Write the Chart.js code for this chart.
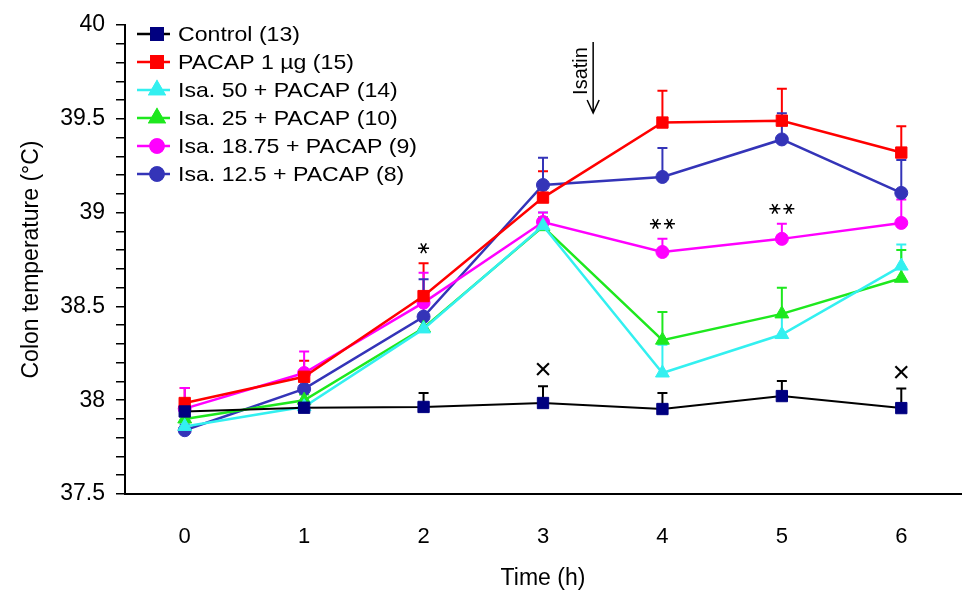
<!DOCTYPE html>
<html>
<head>
<meta charset="utf-8">
<script src="https://cdn.jsdelivr.net/npm/chart.js@4.4.1/dist/chart.umd.min.js"></script>
<style>
  body { margin: 0; background: #fff; }
  #wrap { width: 970px; height: 604px; }
</style>
</head>
<body>
<div id="wrap"><canvas id="tempChart"></canvas></div>
<script>
// data
const times = ['0', '1', '2', '3', '4', '5', '6'];

const controlMean = [37.94, 37.96, 37.964, 37.985, 37.953, 38.022, 37.958];
const controlSem  = [0.03, 0.02, 0.075, 0.09, 0.085, 0.08, 0.105];

const pacapMean = [37.985, 38.125, 38.555, 39.08, 39.48, 39.49, 39.32];
const pacapSem  = [0.08, 0.085, 0.175, 0.14, 0.17, 0.17, 0.14];

const isa50Mean = [37.86, 37.965, 38.38, 38.93, 38.145, 38.35, 38.715];
const isa50Sem  = [0.03, 0.03, 0.05, 0.07, 0.15, 0.1, 0.115];

const isa25Mean = [37.9, 38.0, 38.385, 38.925, 38.32, 38.46, 38.65];
const isa25Sem  = [0.03, 0.03, 0.05, 0.05, 0.15, 0.14, 0.15];

const isa1875Mean = [37.955, 38.145, 38.52, 38.95, 38.79, 38.86, 38.945];
const isa1875Sem  = [0.11, 0.115, 0.16, 0.05, 0.07, 0.08, 0.125];

const isa125Mean = [37.84, 38.06, 38.445, 39.147, 39.19, 39.39, 39.105];
const isa125Sem  = [0.03, 0.05, 0.2, 0.145, 0.155, 0.14, 0.175];

// significance marks: time index, text, series they sit above
const sigTimes  = [2, 4, 5, 3, 6];
const sigText   = ['*', '**', '**', '\u00d7', '\u00d7'];
const sigSeries = [1, 4, 4, 0, 0];

const isatinTime = 3.42;

const yTicks = { min: 37.5, max: 40, step: 0.1 };

// series look
const series = [
  { label: 'Control (13)',           mean: controlMean, sem: controlSem, line: '#000000', fill: '#000080', bar: '#000000', style: 'rect',     r: 8 },
  { label: 'PACAP 1 \u00b5g (15)',   mean: pacapMean,   sem: pacapSem,   line: '#ff0000', fill: '#ff0000', bar: '#ff0000', style: 'rect',     r: 8 },
  { label: 'Isa. 50 + PACAP (14)',   mean: isa50Mean,   sem: isa50Sem,   line: '#33f0f0', fill: '#33f0f0', bar: '#33f0f0', style: 'triangle', r: 8 },
  { label: 'Isa. 25 + PACAP (10)',   mean: isa25Mean,   sem: isa25Sem,   line: '#1ee81e', fill: '#1ee81e', bar: '#1ee81e', style: 'triangle', r: 8 },
  { label: 'Isa. 18.75 + PACAP (9)', mean: isa1875Mean, sem: isa1875Sem, line: '#ff00ff', fill: '#ff00ff', bar: '#ff00ff', style: 'circle',   r: 6.5 },
  { label: 'Isa. 12.5 + PACAP (8)',  mean: isa125Mean,  sem: isa125Sem,  line: '#3434b8', fill: '#3434b8', bar: '#3434b8', style: 'circle',   r: 6.5 }
];

const FONT = '"Liberation Sans", Arial, sans-serif';

// error bars (upward only, with cap)
const errorBars = {
  id: 'errorBars',
  beforeDatasetsDraw(chart) {
    const ctx = chart.ctx;
    const xs = chart.scales.x, ys = chart.scales.y;
    ctx.save();
    ctx.lineWidth = 2;
    series.forEach((s) => {
      ctx.strokeStyle = s.bar;
      s.mean.forEach((m, j) => {
        const x = xs.getPixelForValue(j);
        const y0 = ys.getPixelForValue(m);
        const y1 = ys.getPixelForValue(m + s.sem[j]);
        ctx.beginPath();
        ctx.moveTo(x, y0);
        ctx.lineTo(x, y1);
        ctx.moveTo(x - 5, y1);
        ctx.lineTo(x + 5, y1);
        ctx.stroke();
      });
    });
    ctx.restore();
  }
};

// six-armed asterisk like the figure's
function drawStar(ctx, x, y) {
  const r = 5.5;
  ctx.beginPath();
  for (let a = 0; a < 3; a++) {
    const ang = a * Math.PI / 3;
    ctx.moveTo(x - r * Math.cos(ang), y - r * Math.sin(ang));
    ctx.lineTo(x + r * Math.cos(ang), y + r * Math.sin(ang));
  }
  ctx.stroke();
}

// stars / crosses, isatin arrow, legend
const extras = {
  id: 'extras',
  afterDraw(chart) {
    const ctx = chart.ctx;
    const xs = chart.scales.x, ys = chart.scales.y;
    ctx.save();

    // significance marks
    ctx.fillStyle = '#000';
    ctx.strokeStyle = '#000';
    ctx.lineWidth = 1.5;
    ctx.textAlign = 'center';
    ctx.textBaseline = 'middle';
    sigTimes.forEach((t, k) => {
      const s = series[sigSeries[k]];
      const x = xs.getPixelForValue(t);
      const y = ys.getPixelForValue(s.mean[t] + s.sem[t]) - 15;
      if (sigText[k] === '\u00d7') {
        ctx.font = '30px ' + FONT;
        ctx.fillText(sigText[k], x, y);
      } else {
        const n = sigText[k].length;
        for (let i = 0; i < n; i++) {
          drawStar(ctx, x + (i - (n - 1) / 2) * 14, y);
        }
      }
    });

    // isatin arrow
    const ax = xs.getPixelForValue(isatinTime);
    const aTop = chart.chartArea.top + 17, aBot = chart.chartArea.top + 88;
    ctx.lineWidth = 1.5;
    ctx.beginPath();
    ctx.moveTo(ax, aTop);
    ctx.lineTo(ax, aBot);
    ctx.moveTo(ax - 6, aBot - 13);
    ctx.lineTo(ax, aBot);
    ctx.lineTo(ax + 6, aBot - 13);
    ctx.stroke();
    ctx.translate(ax - 12, aTop + 29);
    ctx.rotate(-Math.PI / 2);
    ctx.font = '20px ' + FONT;
    ctx.fillText('Isatin', 0, 0);
    ctx.setTransform(1, 0, 0, 1, 0, 0);

    // legend
    const lx = 137, lw = 33, rowH = 28;
    let ly = chart.chartArea.top + 9;
    ctx.textAlign = 'left';
    series.forEach((s) => {
      ctx.strokeStyle = s.line;
      ctx.lineWidth = 2.5;
      ctx.beginPath();
      ctx.moveTo(lx, ly);
      ctx.lineTo(lx + lw, ly);
      ctx.stroke();
      Chart.helpers.drawPoint(ctx, {
        pointStyle: s.style, radius: s.r, borderWidth: 1,
        rotation: 0
      }, lx + 20, ly);
      ctx.fillStyle = s.fill;
      ctx.strokeStyle = s.fill;
      ctx.fill();
      ctx.stroke();
      ctx.fillStyle = '#000';
      // text in the figure is a bit wide
      ctx.save();
      ctx.translate(lx + 41, ly + 1);
      ctx.scale(1.1, 1);
      ctx.font = '21px ' + FONT;
      ctx.fillText(s.label, 0, 0);
      ctx.restore();
      ly += rowH;
    });
    ctx.restore();
  }
};

const datasets = series.map((s) => ({
  label: s.label,
  data: s.mean,
  borderColor: s.line,
  borderWidth: s.line === '#000000' ? 2 : 2.5,
  backgroundColor: s.fill,
  pointBackgroundColor: s.fill,
  pointBorderColor: s.fill,
  pointBorderWidth: 1,
  pointStyle: s.style,
  pointRadius: s.r,
  tension: 0
}));

const ctx1 = document.getElementById('tempChart').getContext('2d');
const tempChart = new Chart(ctx1, {
  type: 'line',
  data: { labels: times, datasets: datasets },
  options: {
    responsive: true,
    maintainAspectRatio: false,
    animation: false,
    layout: { padding: { top: 25, right: 5, left: 0, bottom: 0 } },
    plugins: { legend: { display: false }, tooltip: { enabled: false } },
    scales: {
      x: {
        type: 'category',
        offset: true,
        grid: { display: false, drawTicks: false },
        border: { display: true, color: '#000', width: 2 },
        ticks: { color: '#000', font: { family: FONT, size: 22 }, padding: 30 },
        title: { display: true, text: 'Time (h)', color: '#000', font: { family: FONT, size: 23 }, padding: { top: 0, bottom: 12 } },
        afterFit(scale) { scale.height = 110; }
      },
      y: {
        min: yTicks.min,
        max: yTicks.max,
        grid: { display: true, drawOnChartArea: false, drawTicks: true, tickLength: 9, color: '#000', lineWidth: 1.5 },
        border: { display: true, color: '#000', width: 2 },
        ticks: {
          stepSize: yTicks.step,
          autoSkip: false,
          color: '#000',
          padding: 11,
          font: { family: FONT, size: 23 },
          callback: (value) => {
            const v = Math.round(value * 10) / 10;
            return Math.abs(v * 2 - Math.round(v * 2)) < 1e-6 ? String(v) : '';
          }
        },
        title: { display: true, text: 'Colon temperature (\u00b0C)', color: '#000', font: { family: FONT, size: 23 }, padding: { top: 18, bottom: 0 } },
        afterFit(scale) { scale.width = 125; }
      }
    }
  },
  plugins: [errorBars, extras]
});
</script>
</body>
</html>
